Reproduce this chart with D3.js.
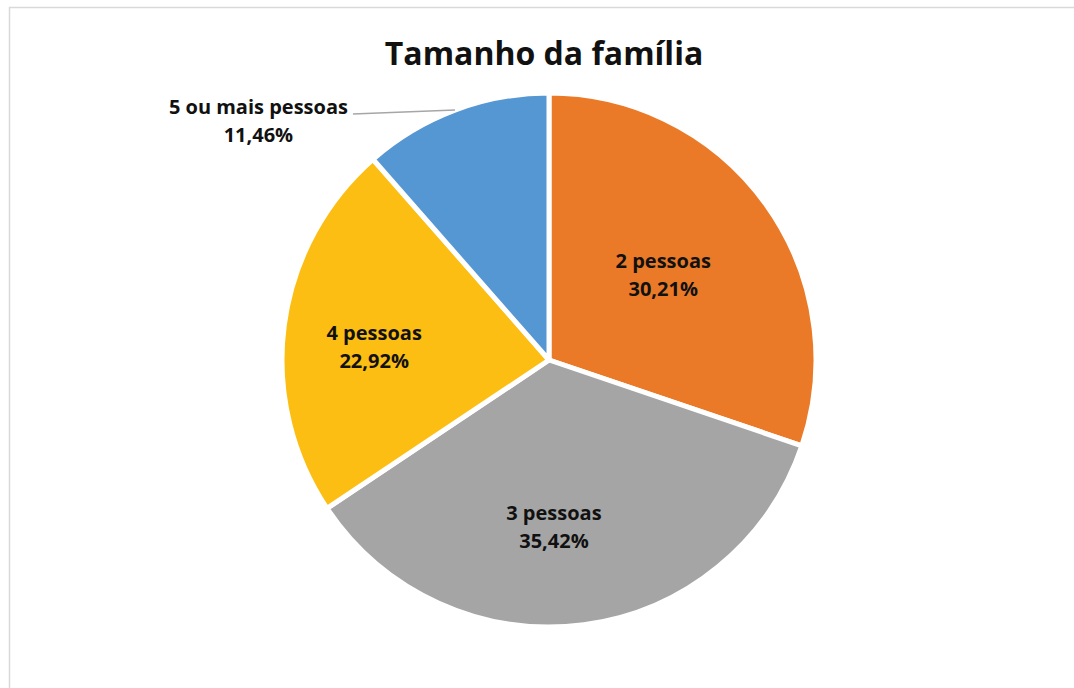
<!DOCTYPE html>
<html>
<head>
<meta charset="utf-8">
<script src="https://cdn.jsdelivr.net/npm/d3@7"></script>
<style>
  html, body { margin: 0; padding: 0; background: #fff; }
  svg { display: block; }
  text { font-family: "Open Sans", "DejaVu Sans", sans-serif; font-weight: 700; fill: #111; }
</style>
</head>
<body>
<svg id="chart" width="1074" height="688"></svg>
<script>
// chart values
const title = "Tamanho da família";
const categories = ["2 pessoas", "3 pessoas", "4 pessoas", "5 ou mais pessoas"];
const percents = [30.21, 35.42, 22.92, 11.46];
const colors = ["#EB7A28", "#A5A5A5", "#FDBE14", "#5597D3"];
const outsideLabel = [false, false, false, true];

const svg = d3.select("#chart");
const width = 1074, height = 688;

// chart frame (runs off the right and bottom of the picture)
svg.append("rect")
  .attr("x", 9.5).attr("y", 7.5)
  .attr("width", width + 20).attr("height", height + 20)
  .attr("fill", "#fff")
  .attr("stroke", "#d9d9d9")
  .attr("stroke-width", 1.5);

svg.append("text")
  .attr("x", 544)
  .attr("y", 65)
  .attr("text-anchor", "middle")
  .attr("font-size", 32)
  .text(title);

const cx = 549, cy = 360, radius = 267;
const fontSize = 20;
const lineGap = 28;
const fmt = v => d3.format(".2f")(v).replace(".", ",") + "%";

const data = categories.map((c, i) => ({ name: c, value: percents[i], color: colors[i], outside: outsideLabel[i] }));

const pie = d3.pie().sort(null).value(d => d.value);
const arc = d3.arc().innerRadius(0).outerRadius(radius);
const labelArc = d3.arc().innerRadius(radius * 0.6).outerRadius(radius * 0.6);

const g = svg.append("g").attr("transform", `translate(${cx},${cy})`);
const arcs = pie(data);

g.selectAll("path.slice")
  .data(arcs)
  .enter()
  .append("path")
  .attr("class", "slice")
  .attr("d", arc)
  .attr("fill", d => d.data.color)
  .attr("stroke", "#fff")
  .attr("stroke-width", 5)
  .attr("stroke-linejoin", "round");

// labels inside the slices (nudged a little left/down like Excel's best fit)
const inside = g.selectAll("g.label-in")
  .data(arcs.filter(d => !d.data.outside))
  .enter()
  .append("g")
  .attr("class", "label-in")
  .attr("transform", d => {
    const [x, y] = labelArc.centroid(d);
    return `translate(${x - 16},${y + 8})`;
  });

inside.append("text")
  .attr("text-anchor", "middle")
  .attr("font-size", fontSize)
  .attr("y", -7)
  .text(d => d.data.name);

inside.append("text")
  .attr("text-anchor", "middle")
  .attr("font-size", fontSize)
  .attr("y", -7 + lineGap)
  .text(d => fmt(d.data.value));

// label with leader line for the small slice
arcs.filter(d => d.data.outside).forEach(d => {
  const mid = (d.startAngle + d.endAngle) / 2;
  const ex = Math.sin(mid) * radius;
  const ey = -Math.cos(mid) * radius;
  const sx = ex - 102, sy = ey + 4;

  g.append("path")
    .attr("d", `M${ex},${ey}L${sx},${sy}`)
    .attr("stroke", "#a6a6a6")
    .attr("stroke-width", 1.5)
    .attr("fill", "none");

  const t1 = g.append("text")
    .attr("text-anchor", "end")
    .attr("font-size", fontSize)
    .attr("x", sx - 5)
    .attr("y", sy)
    .text(d.data.name);
  const w = t1.node().getComputedTextLength();

  g.append("text")
    .attr("text-anchor", "middle")
    .attr("font-size", fontSize)
    .attr("x", sx - 5 - w / 2)
    .attr("y", sy + lineGap)
    .text(fmt(d.data.value));
});
</script>
</body>
</html>
